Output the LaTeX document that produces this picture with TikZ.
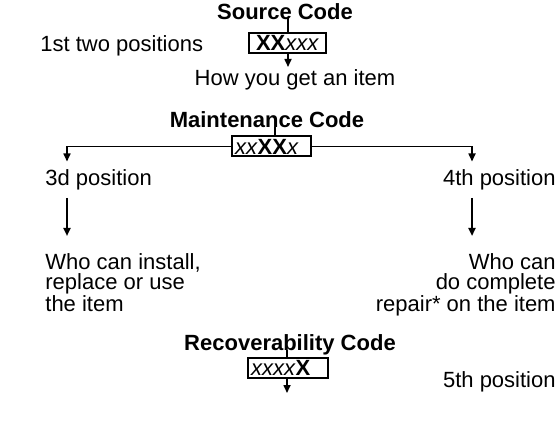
\documentclass[tikz,border=0pt]{standalone}
\usepackage{fontspec}
\setmainfont{Liberation Sans}
\usetikzlibrary{arrows.meta}
\begin{document}
\begin{tikzpicture}[x=0.5pt, y=-0.5pt, font=\fontsize{11}{10}\selectfont,
  every node/.style={inner sep=0pt},
  heading/.style={font=\fontsize{11}{10}\selectfont\bfseries},
  codebox/.style={draw, line width=1pt, minimum height=10pt, text width=#1, inner xsep=1.5pt, text height=7.6pt, text depth=0pt},
  link/.style={line width=0.8pt},
  pointer/.style={line width=0.8pt, -{Triangle[width=3.5pt,length=4pt]}}]
\useasboundingbox (0,0) rectangle (560,426);
% source code
\node[heading] (src) at (285,12) {Source Code};
\node[anchor=west] (pos12) at (40,46) {1st two positions};
\node[codebox=35.5pt, align=center] (srcbox) at (287.5,43) {\textbf{XX}\textit{xxx}};
\node (how) at (295,80) {How you get an item};
\coordinate (srctop) at (288,18);
\coordinate (srcend) at (288,67);
\draw[link] (srctop) -- (srcbox.north -| srctop);
\draw[pointer] (srcbox.south -| srcend) -- (srcend);
% maintenance code
\node[heading] (mnt) at (267,120) {Maintenance Code};
\node[codebox=36.5pt, align=left] (mntbox) at (271.5,146.5) {\textit{xx}\textbf{XX}\textit{x}};
\coordinate (mnttop) at (275,127);
\coordinate (left) at (67,146.5);
\coordinate (right) at (472,146.5);
\draw[link] (mnttop) -- (mntbox.north -| mnttop);
\draw[pointer] (mntbox.west) -- (left) -- ++(0,15);
\draw[pointer] (mntbox.east) -- (right) -- ++(0,15);
\node[anchor=west] (pos3) at (45,180) {3d position};
\node[anchor=east] (pos4) at (556,180) {4th position};
\coordinate (l1) at (67,198);
\coordinate (l2) at (67,236);
\coordinate (r1) at (472,198);
\coordinate (r2) at (472,236);
\draw[pointer, line width=1.1pt] (l1) -- (l2);
\draw[pointer, line width=1.1pt] (r1) -- (r2);
\node[anchor=north west, align=left] (who3) at (45,253) {Who can install,\\replace or use\\the item};
\node[anchor=north east, align=right] (who4) at (556,253) {Who can\\do complete\\repair* on the item};
% recoverability code
\node[heading] (rec) at (290,345) {Recoverability Code};
\node[codebox=37pt, align=left] (recbox) at (288,367.5) {\textit{xxxx}\textbf{X}};
\node[anchor=east] (pos5) at (556,382) {5th position};
\coordinate (rectop) at (287,350);
\coordinate (recend) at (287,393);
\draw[link] (rectop) -- (recbox.north -| rectop);
\draw[pointer] (recbox.south -| recend) -- (recend);
\end{tikzpicture}
\end{document}
